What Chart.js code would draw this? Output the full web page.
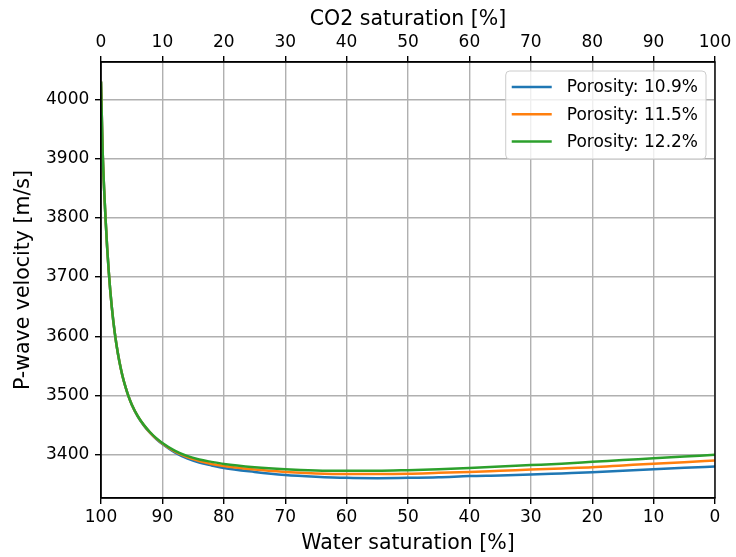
<!DOCTYPE html>
<html><head><meta charset="utf-8">
<script src="https://cdn.jsdelivr.net/npm/chart.js@4.4.1/dist/chart.umd.min.js"></script>
<style>html,body{margin:0;padding:0;background:#fff;} #wrap{width:736px;height:557px;position:relative;}</style>
</head><body><div id="wrap"><canvas id="c" width="736" height="557"></canvas></div>
<script>
// CO2 saturation [%] (top axis); water saturation = 100 - CO2
const co2Saturation = [0, 0.25, 0.5, 0.75, 1, 1.25, 1.5, 2, 2.5, 3, 3.5, 4, 4.5, 5, 6, 7, 8, 9, 10, 12, 14, 16, 18, 20, 25, 30, 35, 40, 45, 50, 55, 60, 65, 70, 75, 80, 85, 90, 95, 100];
const velPor109 = [4030, 3920, 3850, 3797, 3750, 3711, 3678, 3626, 3587, 3557, 3533, 3514, 3498, 3485, 3464.3, 3449.1, 3436.8, 3426.5, 3418, 3404, 3394, 3387, 3382, 3377.5, 3371, 3366, 3363, 3361, 3360.5, 3361, 3362, 3364, 3365, 3366.5, 3368.5, 3370.5, 3373, 3375.5, 3378, 3380];
const velPor115 = [4030, 3920, 3850, 3797, 3750, 3711, 3678, 3626, 3587, 3557, 3533, 3514, 3498, 3485, 3464.7, 3449.6, 3437.4, 3427.3, 3419, 3405.5, 3396, 3389.5, 3384.5, 3381, 3375, 3371, 3368.5, 3367.5, 3367.5, 3368, 3369.5, 3371, 3373, 3375, 3377, 3379, 3382, 3385, 3387.5, 3390.5];
const velPor122 = [4030, 3920, 3850, 3797, 3750, 3711, 3678, 3626, 3587, 3557, 3533, 3514, 3498, 3485, 3465, 3450, 3438, 3428, 3420, 3407, 3398, 3392, 3388, 3384.5, 3379, 3375.5, 3373.5, 3373, 3373, 3374, 3375.5, 3377.5, 3380, 3382.5, 3385, 3388, 3391, 3394, 3397, 3400];
const seriesLabels = ['Porosity: 10.9%', 'Porosity: 11.5%', 'Porosity: 12.2%'];
const seriesColors = ['#1f77b4', '#ff7f0e', '#2ca02c'];
const yTicks = [3400, 3500, 3600, 3700, 3800, 3900, 4000];
const xTicks = [0, 10, 20, 30, 40, 50, 60, 70, 80, 90, 100];

const FONT = 'DejaVu Sans';
Chart.defaults.color = '#000';
Chart.defaults.font.family = FONT;

const seriesValues = [velPor109, velPor115, velPor122];
const datasets = seriesValues.map((vals, i) => ({
  label: seriesLabels[i],
  data: co2Saturation.map((x, j) => ({x: x, y: vals[j]})),
  borderColor: seriesColors[i],
  backgroundColor: seriesColors[i],
  borderWidth: 2.5,
  pointRadius: 0,
  cubicInterpolationMode: 'monotone',
  fill: false,
  order: 2 - i,
  xAxisID: 'x',
  yAxisID: 'y'
}));

const tickFont = {family: FONT, size: 17};
const titleFont = {family: FONT, size: 20.5};
const gridBase = {color: '#b0b0b0', lineWidth: 1.4, tickColor: '#000', tickLength: 6, tickWidth: 1.4};
const plainNum = v => String(v);

const framePlugin = {
  id: 'frame',
  afterDatasetsDraw(chart) {
    const {ctx, chartArea: a} = chart;
    ctx.save();
    ctx.strokeStyle = '#000';
    ctx.lineWidth = 1.4;
    ctx.strokeRect(a.left, a.top, a.right - a.left, a.bottom - a.top);
    ctx.restore();
  }
};

const legendPlugin = {
  id: 'innerLegend',
  afterDraw(chart) {
    const {ctx, chartArea: a} = chart;
    ctx.save();
    ctx.font = '17px "' + FONT + '"';
    const ds = chart.data.datasets;
    let tw = 0;
    ds.forEach(d => { tw = Math.max(tw, ctx.measureText(d.label).width); });
    const padL = 6, lineLen = 40, gap = 15, padR = 8;
    const w = padL + lineLen + gap + tw + padR;
    const h = 88;
    const right = a.right - 9, top = a.top + 9;
    const left = right - w;
    ctx.beginPath();
    ctx.roundRect(left, top, w, h, 4);
    ctx.fillStyle = 'rgba(255,255,255,0.8)';
    ctx.fill();
    ctx.strokeStyle = '#cccccc';
    ctx.lineWidth = 1;
    ctx.stroke();
    ds.forEach((d, i) => {
      const y = top + 16 + i * 27.2;
      ctx.beginPath();
      ctx.moveTo(left + padL, y);
      ctx.lineTo(left + padL + lineLen, y);
      ctx.strokeStyle = d.borderColor;
      ctx.lineWidth = 2.5;
      ctx.stroke();
      ctx.fillStyle = '#000';
      ctx.textBaseline = 'middle';
      ctx.textAlign = 'left';
      ctx.fillText(d.label, left + padL + lineLen + gap, y + 1);
    });
    ctx.restore();
  }
};

new Chart(document.getElementById('c'), {
  type: 'line',
  data: {datasets: datasets},
  options: {
    responsive: false,
    animation: false,
    devicePixelRatio: 1,
    layout: {padding: {left: 0, right: 21, top: 0, bottom: 0}},
    plugins: {legend: {display: false}, tooltip: {enabled: false}},
    scales: {
      x: {
        type: 'linear', position: 'top', min: 0, max: 100,
        afterBuildTicks: s => { s.ticks = xTicks.map(v => ({value: v})); },
        afterFit: s => { s.height = 62; },
        ticks: {font: tickFont, color: '#000', padding: 3.5, maxRotation: 0, autoSkip: false, callback: plainNum},
        grid: Object.assign({}, gridBase),
        border: {display: true, color: '#000', width: 1.4},
        title: {display: true, text: 'CO2 saturation [%]', font: titleFont, color: '#000', padding: {top: 7, bottom: 0}}
      },
      xb: {
        type: 'linear', position: 'bottom', min: 0, max: 100, reverse: true,
        afterBuildTicks: s => { s.ticks = xTicks.map(v => ({value: v})); },
        afterFit: s => { s.height = 59; },
        ticks: {font: tickFont, color: '#000', padding: 3.5, maxRotation: 0, autoSkip: false, callback: plainNum},
        grid: Object.assign({}, gridBase, {drawOnChartArea: false}),
        border: {display: true, color: '#000', width: 1.4},
        title: {display: true, text: 'Water saturation [%]', font: titleFont, color: '#000', padding: {top: 0, bottom: 1}}
      },
      y: {
        type: 'linear', position: 'left', min: 3327, max: 4063,
        afterBuildTicks: s => { s.ticks = yTicks.map(v => ({value: v})); },
        afterFit: s => { s.width = 101; },
        ticks: {font: tickFont, color: '#000', padding: 5.7, autoSkip: false, callback: plainNum},
        grid: Object.assign({}, gridBase),
        border: {display: true, color: '#000', width: 1.4},
        title: {display: true, text: 'P-wave velocity [m/s]', font: titleFont, color: '#000', padding: {top: 11.7, bottom: 0}}
      }
    }
  },
  plugins: [framePlugin, legendPlugin]
});
</script>
</body></html>
